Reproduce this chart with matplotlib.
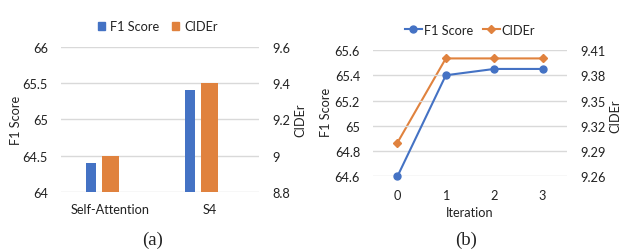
import matplotlib
matplotlib.use('Agg')
import matplotlib.pyplot as plt
from matplotlib.patches import Patch
from matplotlib.lines import Line2D

# ---- data ----
categories = ['Self-Attention', 'S4']
f1_bar = [64.4, 65.4]
cider_bar = [9.0, 9.4]

iterations = ['0', '1', '2', '3']
f1_line = [64.6, 65.4, 65.45, 65.45]
cider_line = [9.30, 9.40, 9.40, 9.40]

a_f1_ticks = [64, 64.5, 65, 65.5, 66]
a_f1_labels = ['64', '64.5', '65', '65.5', '66']
a_cider_ticks = [8.8, 9.0, 9.2, 9.4, 9.6]
a_cider_labels = ['8.8', '9', '9.2', '9.4', '9.6']

b_f1_ticks = [64.6, 64.8, 65.0, 65.2, 65.4, 65.6]
b_f1_labels = ['64.6', '64.8', '65', '65.2', '65.4', '65.6']
b_cider_ticks = [9.26, 9.29, 9.32, 9.35, 9.38, 9.41]
b_cider_labels = ['9.26', '9.29', '9.32', '9.35', '9.38', '9.41']

BLUE = '#4472C4'
ORANGE = '#E0823E'
GRID = '#D9D9D9'
TXT = '#222222'
FONT = 'Lato'
FS = 9.2

plt.rcParams['font.family'] = [FONT, 'DejaVu Sans']
plt.rcParams['text.color'] = TXT

W, H = 626, 251
fig = plt.figure(figsize=(W / 100, H / 100), dpi=100)


def px_axes(x0, x1, ytop, ybot):
    return fig.add_axes([x0 / W, (H - ybot) / H, (x1 - x0) / W, (ybot - ytop) / H])


def style(ax, ax2):
    for a in (ax, ax2):
        for s in a.spines.values():
            s.set_visible(False)
        a.tick_params(length=0, labelsize=FS, colors=TXT, pad=9.5)
    ax.tick_params(axis='x', pad=8)
    ax.set_axisbelow(True)
    ax.grid(axis='y', color=GRID, linewidth=1.0)


# ---------- (a) ----------
ax = px_axes(61, 259, 47.6, 193.3)
ax2 = ax.twinx()
xa = list(range(len(categories)))
ax.bar([x - 0.199 for x in xa], f1_bar, width=0.098, color=BLUE, zorder=2)
ax2.bar(xa, cider_bar, width=0.168, color=ORANGE, zorder=2)
ax.set_xlim(-0.5, len(categories) - 0.5)
ax.set_ylim(a_f1_ticks[0], a_f1_ticks[-1])
ax2.set_ylim(a_cider_ticks[0], a_cider_ticks[-1])
ax.set_yticks(a_f1_ticks, a_f1_labels)
ax2.set_yticks(a_cider_ticks, a_cider_labels)
ax.set_xticks(xa, categories)
style(ax, ax2)
fig.text(15.5 / W, 1 - 120.5 / H, 'F1 Score', rotation=90, ha='center', va='center', fontsize=FS)
fig.text(300 / W, 1 - 120 / H, 'CIDEr', rotation=90, ha='center', va='center', fontsize=FS)
handles = [Patch(color=BLUE, label='F1 Score'), Patch(color=ORANGE, label='CIDEr')]
fig.legend(handles=handles, loc='center', bbox_to_anchor=(158 / W, 1 - 27.3 / H), ncol=2,
           frameon=False, fontsize=FS, handlelength=0.55, handleheight=0.55,
           handletextpad=0.4, columnspacing=1.0, borderpad=0)
fig.text(152.5 / W, 1 - 240 / H, '(a)', ha='center', va='center', fontsize=13.5,
         family=['Liberation Serif'])

# ---------- (b) ----------
bx = px_axes(373.3, 566.7, 51, 177.3)
bx2 = bx.twinx()
xb = list(range(len(iterations)))
bx.plot(xb, f1_line, color=BLUE, lw=1.5, marker='o', ms=5, clip_on=False, zorder=3)
bx2.plot(xb, cider_line, color=ORANGE, lw=1.5, marker='D', ms=3.8, clip_on=False, zorder=3)
bx.set_xlim(-0.5, len(iterations) - 0.5)
bx.set_ylim(b_f1_ticks[0], b_f1_ticks[-1])
bx2.set_ylim(b_cider_ticks[0], b_cider_ticks[-1])
bx.set_yticks(b_f1_ticks, b_f1_labels)
bx2.set_yticks(b_cider_ticks, b_cider_labels)
bx.set_xticks(xb, iterations)
style(bx, bx2)
bx.tick_params(axis='x', pad=9)
bx.set_zorder(bx2.get_zorder() + 1)
bx.patch.set_visible(False)
fig.text(326 / W, 1 - 112 / H, 'F1 Score', rotation=90, ha='center', va='center', fontsize=FS)
fig.text(615 / W, 1 - 116 / H, 'CIDEr', rotation=90, ha='center', va='center', fontsize=FS)
fig.text(470 / W, 1 - 213.3 / H, 'Iteration', ha='center', va='center', fontsize=FS)
lh = [Line2D([], [], color=BLUE, lw=1.5, marker='o', ms=5, label='F1 Score'),
      Line2D([], [], color=ORANGE, lw=1.5, marker='D', ms=3.8, label='CIDEr')]
fig.legend(handles=lh, loc='center', bbox_to_anchor=(470 / W, 1 - 30.7 / H), ncol=2,
           frameon=False, fontsize=FS, handlelength=1.3, handletextpad=0.15,
           columnspacing=0.8, borderpad=0)
fig.text(466 / W, 1 - 240 / H, '(b)', ha='center', va='center', fontsize=13.5,
         family=['Liberation Serif'])

fig.savefig('out.png', dpi=100)
